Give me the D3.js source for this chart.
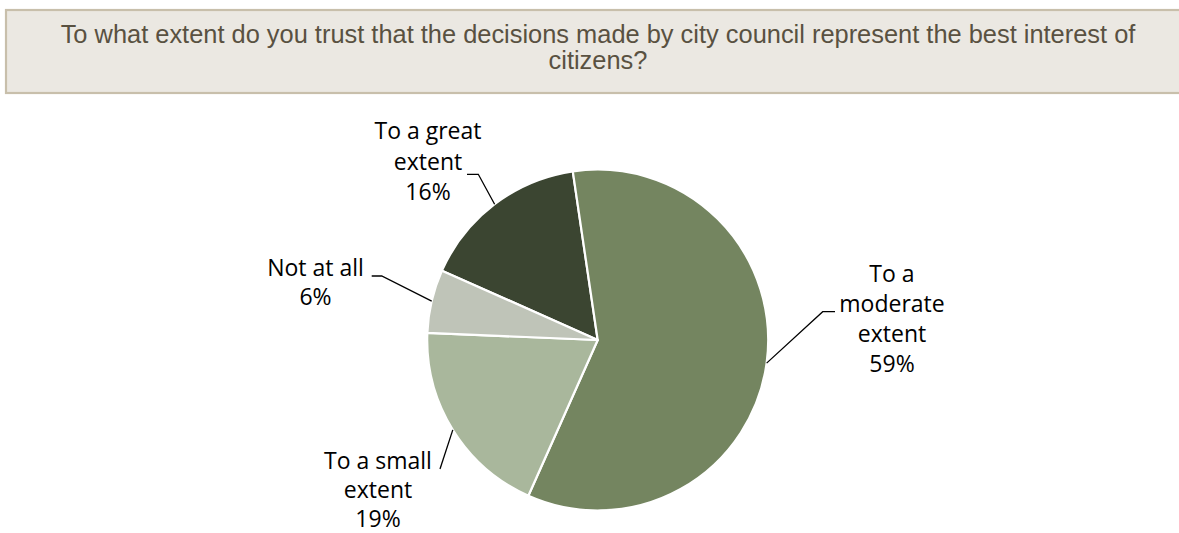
<!DOCTYPE html>
<html>
<head>
<meta charset="utf-8">
<script src="https://cdn.jsdelivr.net/npm/d3@7/dist/d3.min.js"></script>
<style>
  html, body { margin: 0; padding: 0; background: #ffffff; }
  svg { display: block; }
</style>
</head>
<body>
<svg id="chart" width="1179" height="533"></svg>
<script>
// Survey answers, in the order the slices are laid out clockwise
const categories = ["To a great extent", "To a moderate extent", "To a small extent", "Not at all"];
const percents = [16, 59, 19, 6];
// Label text lines for each answer (the last line carries the value)
const labelLines = [
  ["To a great", "extent"],
  ["To a", "moderate", "extent"],
  ["To a small", "extent"],
  ["Not at all"]
];
const titleLines = [
  "To what extent do you trust that the decisions made by city council represent the best interest of",
  "citizens?"
];

const colors = ["#3b4531", "#748560", "#a9b79c", "#bfc4b8"];

const W = 1179, H = 533;
const cx = 597.7, cy = 340, R = 170.5;
const deg = Math.PI / 180;
const firstSliceAngle = 294 * deg;

const svg = d3.select("#chart");

// Title banner
svg.append("rect")
  .attr("x", 6).attr("y", 10)
  .attr("width", 1200).attr("height", 83)
  .attr("fill", "#ebe8e2")
  .attr("stroke", "#c8bfab")
  .attr("stroke-width", 2.2);

const title = svg.append("g");
const titleText = titleLines.map((t, i) =>
  title.append("text")
    .attr("x", 598)
    .attr("y", 43 + i * 25.5)
    .attr("text-anchor", "middle")
    .attr("font-family", "'Liberation Sans', Arial, sans-serif")
    .attr("font-size", 22)
    .attr("fill", "#595141")
    .text(t)
);
// size the title so the long line spans the banner as intended
const w0 = titleText[0].node().getComputedTextLength();
const fs = 22 * 1075 / w0;
titleText.forEach(t => t.attr("font-size", fs));

// Pie
const pie = d3.pie().sort(null).value(d => d)
  .startAngle(firstSliceAngle).endAngle(firstSliceAngle + 2 * Math.PI);
const arcs = pie(percents);
const arc = d3.arc().innerRadius(0).outerRadius(R);

const g = svg.append("g").attr("transform", `translate(${cx},${cy})`);
g.selectAll("path.slice")
  .data(arcs)
  .join("path")
  .attr("class", "slice")
  .attr("d", arc)
  .attr("fill", (d, i) => colors[i])
  .attr("stroke", "#ffffff")
  .attr("stroke-width", 2.2)
  .attr("stroke-linejoin", "round");

// Label layout: text centre x, first baseline, line gap, leader elbow and leader end (absolute px)
const labelLayout = [
  { x: 428, y: 139, gap: 30.5, elbow: [478.3, 174.3], tail: [467, 174.3] },
  { x: 892, y: 282, gap: 30, elbow: [822.7, 311.7], tail: [835, 311.7] },
  { x: 378, y: 469, gap: 29, elbow: null, tail: [440, 469] },
  { x: 315.5, y: 276, gap: 29, elbow: [381.7, 276], tail: [371.7, 276] }
];

arcs.forEach((a, i) => {
  const L = labelLayout[i];
  const mid = (a.startAngle + a.endAngle) / 2;
  const edge = [cx + R * Math.sin(mid), cy - R * Math.cos(mid)];
  const pts = L.elbow ? [edge, L.elbow, L.tail] : [edge, L.tail];
  svg.append("path")
    .attr("d", d3.line()(pts))
    .attr("fill", "none")
    .attr("stroke", "#000000")
    .attr("stroke-width", 1.3);

  const lines = labelLines[i].concat([percents[i] + "%"]);
  const t = svg.append("text")
    .attr("text-anchor", "middle")
    .attr("font-family", "'Open Sans', sans-serif")
    .attr("font-size", 23)
    .attr("fill", "#000000");
  lines.forEach((s, k) => {
    t.append("tspan")
      .attr("x", L.x)
      .attr("y", L.y + k * L.gap)
      .text(s);
  });
});
</script>
</body>
</html>
